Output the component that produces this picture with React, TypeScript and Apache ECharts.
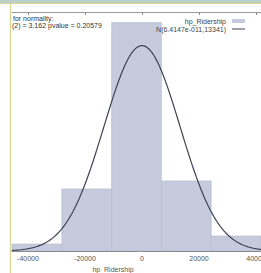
import React, { useEffect, useRef } from "react";
import * as echarts from "echarts";

// Histogram bins (hp_Ridership) and relative frequency densities
const binStarts = [-45614, -28140, -10666, 6808, 24281];
const binEnds = [-28140, -10666, 6808, 24281, 41755];
const densities = [1.02e-6, 9.04e-6, 3.326e-5, 1.021e-5, 2.19e-6];

// Fitted normal N(mean, sd) from the legend
const normalMean = 6.4147e-11;
const normalSd = 13341;

const xTicks = [-40000, -20000, 0, 20000, 40000];
const seriesName = "hp_Ridership";
const curveName = "N(6.4147e-011,13341)";
const testLines = ["for normality:", "(2) = 3.162 pvalue = 0.20579"];

const X_MIN = -45614;
const X_MAX = 41755;

function normalPdf(x: number) {
  const z = (x - normalMean) / normalSd;
  return Math.exp(-0.5 * z * z) / (normalSd * Math.sqrt(2 * Math.PI));
}

export default function App() {
  const ref = useRef<HTMLDivElement>(null);
  useEffect(() => {
    if (!ref.current) return;
    const chart = echarts.init(ref.current, null, { renderer: "svg" });
    const curve: number[][] = [];
    const steps = 200;
    for (let i = 0; i <= steps; i++) {
      const x = X_MIN + ((X_MAX - X_MIN) * i) / steps;
      curve.push([x, normalPdf(x)]);
    }
    const bins = binStarts.map((s, i) => [s, binEnds[i], densities[i]]);
    const font = "'Liberation Sans', Arial, sans-serif";
    chart.setOption({
      animation: false,
      backgroundColor: "#ffffff",
      grid: { left: 12, right: 0, top: 12, bottom: 22, containLabel: false, outerBoundsMode: "none" },
      legend: {
        orient: "vertical",
        right: 11,
        top: 12,
        align: "right",
        itemGap: 0,
        itemWidth: 13,
        itemHeight: 4,
        textStyle: { fontSize: 7, fontFamily: font, color: "#444", padding: [0, 1, 0, 0], lineHeight: 8 },
        data: [
          { name: seriesName, icon: "rect", itemStyle: { color: "#c5cbdc" } },
          { name: curveName, icon: "path://M0,0L13,0L13,1L0,1Z", itemStyle: { color: "#3d4254" } },
        ],
      },
      xAxis: [
        {
          type: "value",
          min: X_MIN,
          max: X_MAX,
          position: "bottom",
          axisLine: { show: true, onZero: false, lineStyle: { color: "#777", width: 1 } },
          axisTick: { show: true, inside: true, length: 3, customValues: xTicks, lineStyle: { color: "#888" } },
          axisLabel: {
            customValues: xTicks,
            fontSize: 7,
            fontFamily: font,
            color: "#555",
            margin: 4,
            formatter: (v: number) => String(v),
          },
          splitLine: { show: false },
        },
        {
          type: "value",
          min: X_MIN,
          max: X_MAX,
          position: "top",
          axisLine: { show: true, onZero: false, lineStyle: { color: "#999", width: 1 } },
          axisTick: { show: true, inside: true, length: 3, customValues: xTicks, lineStyle: { color: "#888" } },
          axisLabel: { show: false },
          splitLine: { show: false },
        },
      ],
      yAxis: [
        {
          type: "value",
          min: 0,
          max: 3.48e-5,
          interval: 5e-6,
          position: "right",
          axisLine: { show: false },
          axisTick: { show: true, inside: true, length: 3, lineStyle: { color: "#999" } },
          axisLabel: { show: false },
          splitLine: { show: false },
        },
      ],
      series: [
        {
          name: seriesName,
          type: "custom",
          xAxisIndex: 0,
          yAxisIndex: 0,
          encode: { x: [0, 1], y: 2 },
          data: bins,
          itemStyle: { color: "#c5cbdc" },
          renderItem: (params: any, api: any) => {
            const s = api.coord([api.value(0), 0]);
            const e = api.coord([api.value(1), api.value(2)]);
            return {
              type: "rect",
              shape: { x: s[0], y: e[1], width: e[0] - s[0], height: s[1] - e[1] },
              style: { fill: "#c5cbdc", stroke: "#b3bacb", lineWidth: 0.6 },
            };
          },
          z: 1,
        },
        {
          name: curveName,
          type: "line",
          xAxisIndex: 0,
          yAxisIndex: 0,
          data: curve,
          symbol: "none",
          smooth: false,
          lineStyle: { color: "#3d4254", width: 1.2 },
          itemStyle: { color: "#3d4254" },
          z: 3,
        },
      ],
      graphic: [
        { type: "rect", shape: { x: 0, y: 0, width: 261, height: 3 }, style: { fill: "#bccfc9" }, z: 100 },
        { type: "line", shape: { x1: 0, y1: 3.5, x2: 261, y2: 3.5 }, style: { stroke: "#d8d28e", lineWidth: 1.2 }, z: 100 },
        { type: "line", shape: { x1: 10.5, y1: 3, x2: 10.5, y2: 273 }, style: { stroke: "#d8d28e", lineWidth: 1.2 }, z: 100 },
        {
          type: "text",
          x: 13,
          y: 18,
          style: { text: testLines[0], fontSize: 7, fontFamily: font, fill: "#333", textVerticalAlign: "middle" },
          z: 50,
        },
        {
          type: "text",
          x: 12,
          y: 25.5,
          style: { text: testLines[1], fontSize: 7, fontFamily: font, fill: "#333", textVerticalAlign: "middle" },
          z: 50,
        },
        {
          type: "text",
          x: 113,
          y: 269,
          style: { text: seriesName, fontSize: 7, fontFamily: font, fill: "#555", textAlign: "center", textVerticalAlign: "middle" },
          z: 50,
        },
      ],
    });
    return () => chart.dispose();
  }, []);
  return (
    <div
      ref={ref}
      style={{ position: "fixed", left: 0, top: 0, width: 261, height: 273, background: "#fff" }}
    />
  );
}
